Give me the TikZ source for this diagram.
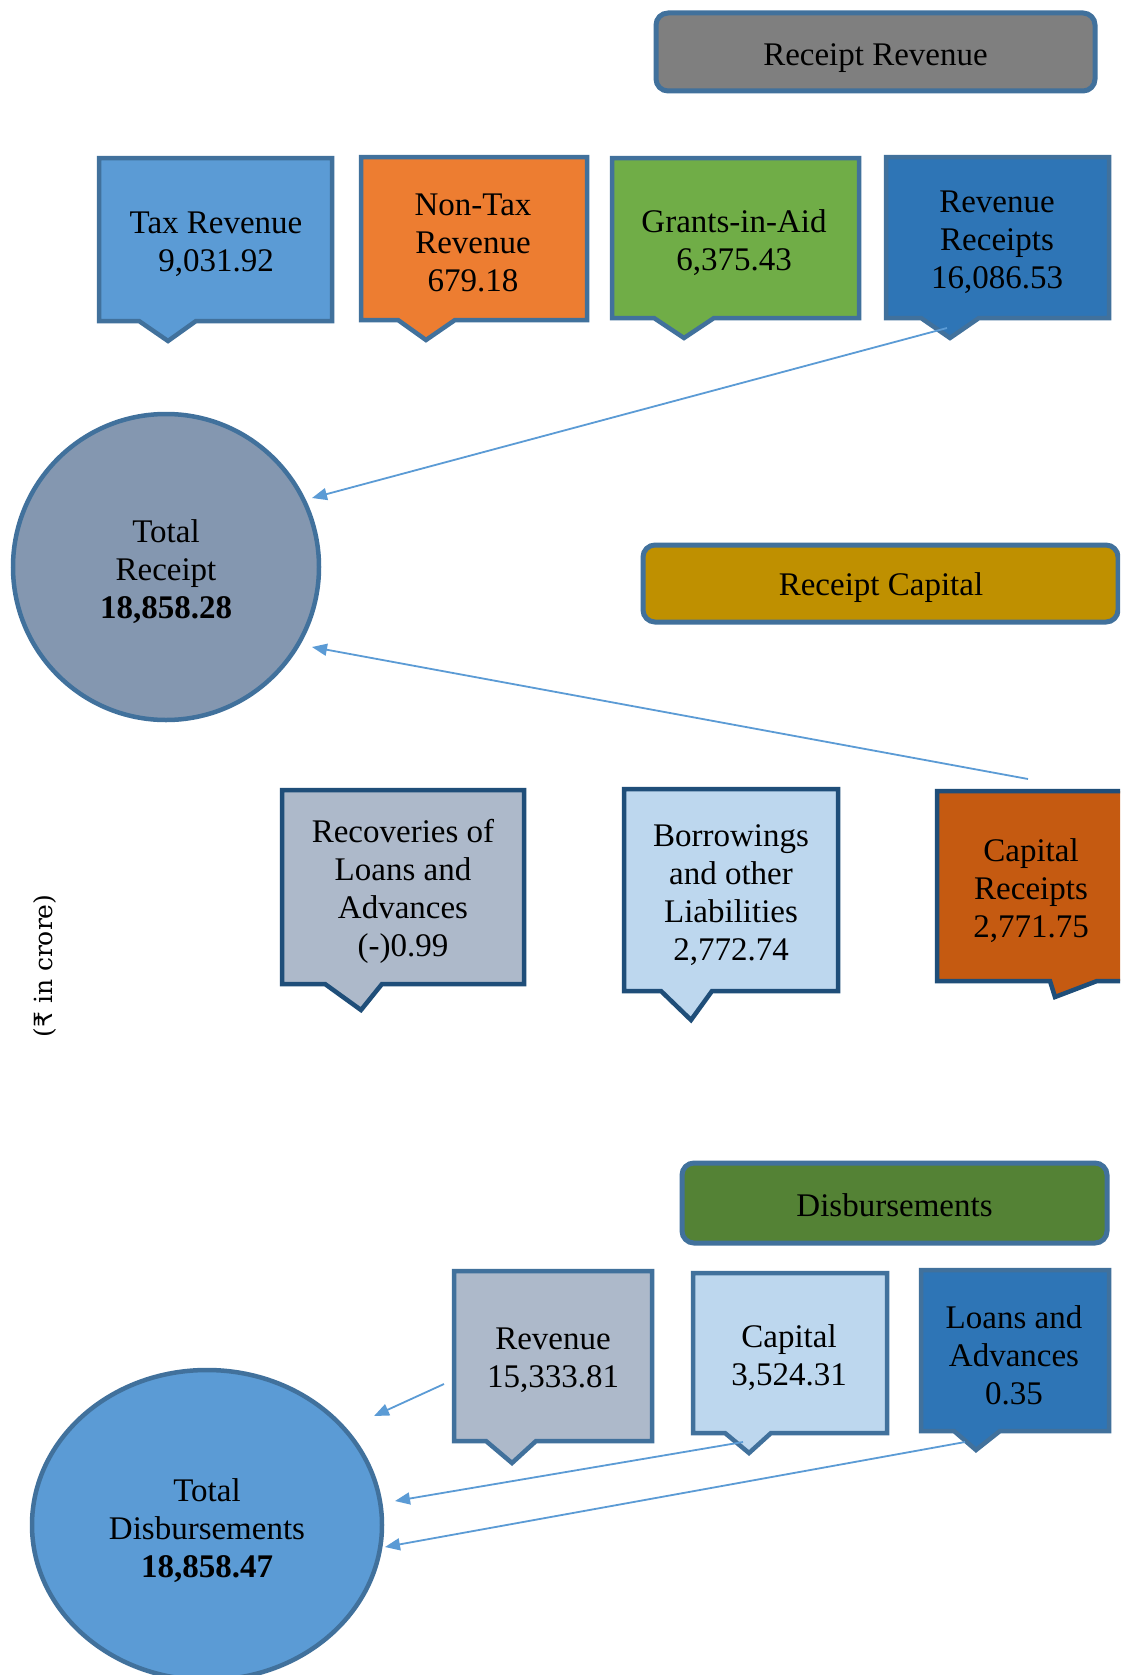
\documentclass[tikz,border=0pt]{standalone}
\usepackage{fontspec}
\setmainfont{Liberation Serif}
\newfontfamily\rupeefont{DejaVu Sans}
\newfontfamily\dvserif{DejaVu Serif}
\usetikzlibrary{arrows.meta,shapes.geometric}
\definecolor{bord}{HTML}{41719C}
\definecolor{bordd}{HTML}{1F4E79}
\definecolor{cgray}{HTML}{7F7F7F}
\definecolor{cgold}{HTML}{BF9000}
\definecolor{cgreen}{HTML}{548235}
\definecolor{cblue}{HTML}{5B9BD5}
\definecolor{corange}{HTML}{ED7D31}
\definecolor{clgreen}{HTML}{70AD47}
\definecolor{cdblue}{HTML}{2E75B6}
\definecolor{cgrayblue}{HTML}{ADB9CA}
\definecolor{clblue}{HTML}{BDD7EE}
\definecolor{cdorange}{HTML}{C55A11}
\definecolor{cslate}{HTML}{8497B0}
\newcommand\callout[9]{\filldraw[callbox, fill=#1, draw=#2] (#3,#4) -- (#5,#4) -- (#5,#6) -- (#8,#6) -- #9 -- (#7,#6) -- (#3,#6) -- cycle;}
\tikzset{
  hdr/.style={draw=bord, line width=5pt, rounded corners=12pt},
  callbox/.style={line width=4.5pt, line join=miter},
  txt/.style={align=center, font=\fontsize{33}{38}\selectfont, inner sep=0pt},
  conn/.style={draw=cblue, line width=1.8pt, -{Triangle[length=15pt,width=12pt]}},
  tot/.style={draw=bord, line width=4.5pt, inner sep=0pt}
}
\begin{document}
\begin{tikzpicture}[x=1pt,y=-1pt]
\useasboundingbox (0,0) rectangle (1120,1675);
\clip (0,0) rectangle (1120,1675);
\fill[white] (0,0) rectangle (1120,1675);

% header boxes
\node[hdr, fill=cgray, minimum width=439pt, minimum height=78pt] (rrev) at (875.5,52) {};
\node[txt] (rrevtxt) at (875.5,58) {Receipt Revenue};
\node[hdr, fill=cgold, minimum width=475pt, minimum height=77pt] (rcap) at (880.5,583.5) {};
\node[txt] (rcaptxt) at (881,588) {Receipt Capital};
\node[hdr, fill=cgreen, minimum width=425pt, minimum height=80pt] (disb) at (894.5,1203) {};
\node[txt] (disbtxt) at (894.5,1205) {Disbursements};

% top row callouts
\callout{cblue}{bord}{99}{158}{332}{321}{139}{196}{(168,341)}
\node[txt] (tax) at (216,244.5) {Tax Revenue\\9,031.92};
\callout{corange}{bord}{361}{157}{587}{320}{398}{455}{(426,340)}
\node[txt] (nontax) at (473,242.5) {Non-Tax\\Revenue\\679.18};
\callout{clgreen}{bord}{612}{158}{859}{318}{654}{714}{(684,338)}
\node[txt] (grants) at (734,242.5) {Grants-in-Aid\\6,375.43};
\callout{cdblue}{bord}{886}{157}{1109}{318}{921}{979}{(950,338)}
\node[txt] (revrec) at (997,242) {Revenue\\Receipts\\16,086.53};

% middle row callouts
\callout{cgrayblue}{bordd}{282}{790}{524}{984}{325}{382}{(361,1010)}
\node[txt] (recov) at (403,891) {Recoveries of\\Loans and\\Advances\\(-)0.99};
\callout{clblue}{bordd}{624}{789}{838}{991}{661}{712}{(691,1020)}
\node[txt] (borrow) at (731,895) {Borrowings\\and other\\Liabilities\\2,772.74};
\callout{cdorange}{bordd}{937}{791}{1135}{981}{1050}{1097}{(1055,997)}
\node[txt] (caprec) at (1031,890.5) {Capital\\Receipts\\2,771.75};

% disbursement callouts
\callout{cgrayblue}{bord}{454}{1271}{652}{1441}{486}{536}{(512,1463)}
\node[txt] (drev) at (553,1360.5) {Revenue\\15,333.81};
\callout{clblue}{bord}{693}{1273}{887}{1433}{725}{771}{(749,1453)}
\node[txt] (dcap) at (789,1357.5) {Capital\\3,524.31};
\callout{cdblue}{bord}{921}{1270}{1109}{1431}{954}{1000}{(976,1450)}
\node[txt] (dloans) at (1014,1355) {Loans and\\Advances\\0.35};

% totals
\node[tot, circle, fill=cslate, minimum size=306pt] (treceipt) at (166,567) {};
\node[txt] (treceipttxt) at (166,572) {Total\\Receipt\\\textbf{18,858.28}};
\node[tot, ellipse, fill=cblue, minimum width=350pt, minimum height=310pt] (tdisb) at (207,1525) {};
\node[txt] (tdisbtxt) at (207,1531) {Total\\Disbursements\\\textbf{18,858.47}};

% unit label
\node[rotate=90, font=\fontsize{25}{28}\selectfont, inner sep=0pt] (unit) at (45,966) {\dvserif(\rupeefont ₹\dvserif{} in crore)};

% connectors
\coordinate (a1s) at (947,328);
\coordinate (a1e) at (312,498);
\coordinate (a2s) at (1028,779);
\coordinate (a2e) at (312,647);
\coordinate (a3s) at (444,1384);
\coordinate (a3e) at (374,1416);
\coordinate (a4s) at (743,1442);
\coordinate (a4e) at (395,1501);
\coordinate (a5s) at (965,1442);
\coordinate (a5e) at (385,1547);
\draw[conn] (a1s) -- (a1e);
\draw[conn] (a2s) -- (a2e);
\draw[conn] (a3s) -- (a3e);
\draw[conn] (a4s) -- (a4e);
\draw[conn] (a5s) -- (a5e);
\end{tikzpicture}
\end{document}
